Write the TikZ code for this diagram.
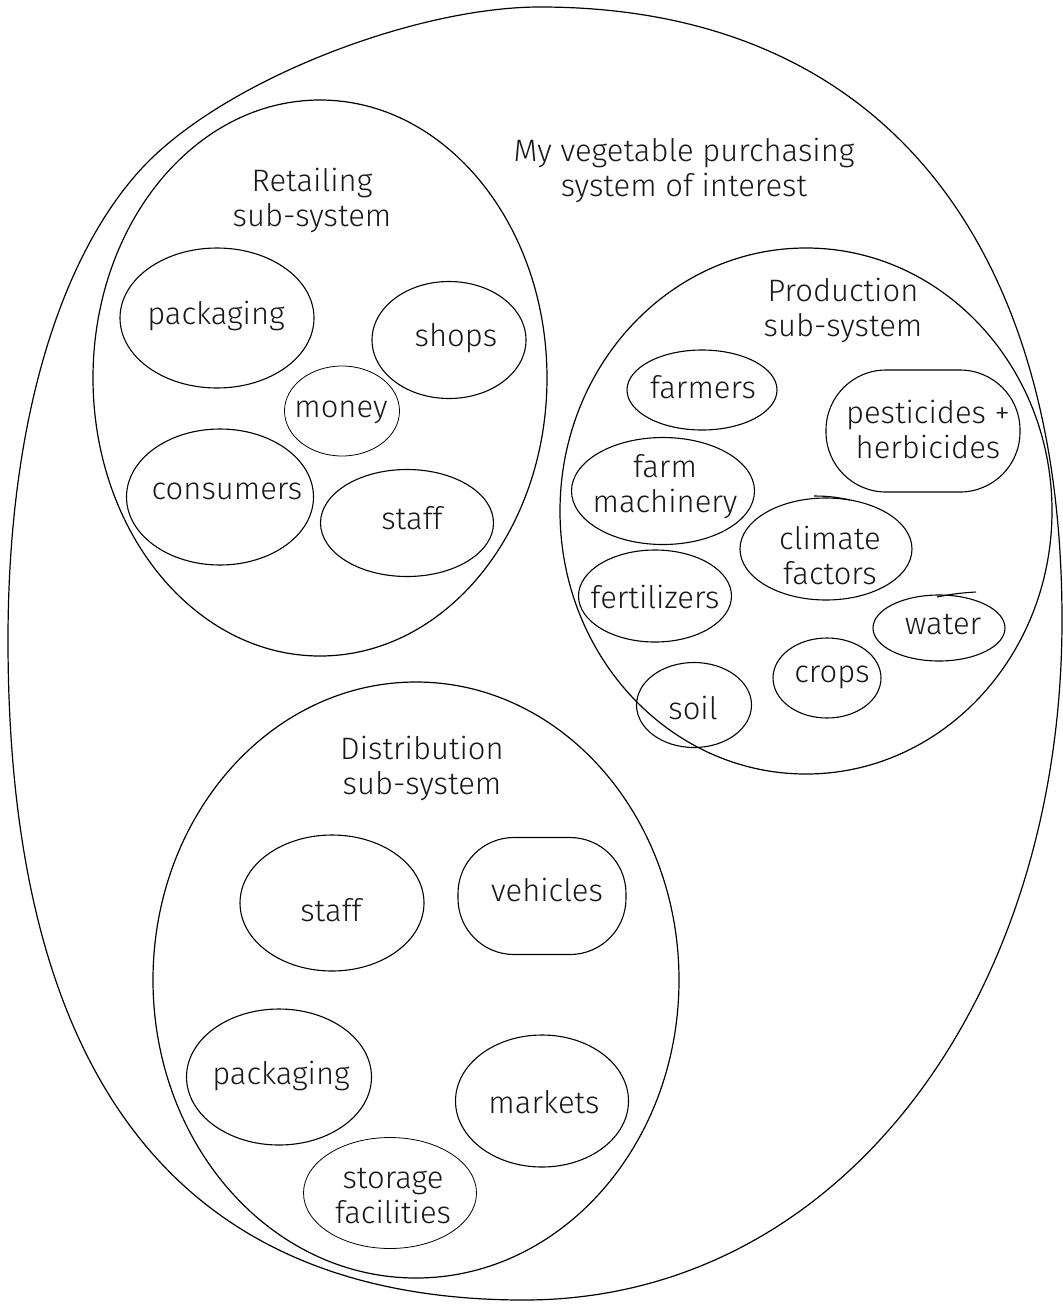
\documentclass[tikz,border=0pt]{standalone}
\usepackage{fontspec}
\setmainfont{Fira Sans Light}
\usetikzlibrary{shapes.geometric}
\begin{document}
\begin{tikzpicture}[x=1pt,y=-1pt,
  ring/.style={draw, ellipse, line width=1.2pt, inner sep=0pt},
  blob/.style={draw, ellipse, line width=1.1pt, inner sep=0pt},
  thinblob/.style={blob, line width=0.8pt},
  pill/.style={draw, rectangle, rounded corners=56pt, line width=1.1pt, inner sep=0pt},
  lbl/.style={align=center, inner sep=0pt, text=black!90,
              font=\fontsize{31}{35}\selectfont}
]
\useasboundingbox[fill=white] (0,0) rectangle (1063,1304);

% the whole system of interest: an egg-shaped outline
\draw[line width=1.2pt] (540,7)
  .. controls (880,7) and (1062,240) .. (1062,620)
  .. controls (1062,1000) and (840,1300) .. (524,1300)
  .. controls (180,1300) and (8,1080) .. (8,640)
  .. controls (8,420) and (61,255) .. (143,167)
  .. controls (225,80) and (415,7) .. cycle;
\node[lbl] (sysT) at (684,170) {My vegetable purchasing\\system of interest};

% retailing sub-system
\node[ring, minimum width=454pt, minimum height=556pt] (retail) at (320,378) {};
\node[lbl] (retailT) at (312,200) {Retailing\\sub-system};
\node[blob, minimum width=194pt, minimum height=140pt] (rpack) at (217,318) {};
\node[lbl] (rpackT) at (216,316) {packaging};
\node[blob, minimum width=154pt, minimum height=117pt] (shops) at (449,340) {};
\node[lbl] (shopsT) at (456,338) {shops};
\node[thinblob, minimum width=115pt, minimum height=90pt] (money) at (342,411) {};
\node[lbl] (moneyT) at (341,412) {money};
\node[blob, minimum width=187pt, minimum height=136pt] (cons) at (220,497) {};
\node[lbl] (consT) at (227,491) {consumers};
\node[blob, minimum width=173pt, minimum height=107pt] (rstaff) at (407,523) {};
\node[lbl] (rstaffT) at (412,518) {staff};

% production sub-system
\node[ring, minimum width=492pt, minimum height=526pt] (prod) at (806,511) {};
\node[lbl] (prodT) at (843,310) {Production\\sub-system};
\node[blob, minimum width=150pt, minimum height=80pt] (farmers) at (702,390) {};
\node[lbl] (farmersT) at (703,387) {farmers};
\node[pill, rounded corners=60pt, minimum width=194pt, minimum height=122pt] (pest) at (923,431) {};
\node[lbl] (pestT) at (928,429) {pesticides +\\herbicides};
\node[blob, minimum width=183pt, minimum height=107pt] (mach) at (663,491) {};
\node[lbl] (machT) at (665,487) {farm\\machinery};
\node[blob, minimum width=172pt, minimum height=102pt] (climate) at (826,549) {};
\node[lbl] (climateT) at (830,555) {climate\\factors};
\draw[line width=1.1pt] (814,496) to[bend left=6] (850,500);
\node[blob, minimum width=153pt, minimum height=92pt] (fert) at (655,596) {};
\node[lbl] (fertT) at (655,597) {fertilizers};
\node[blob, minimum width=132pt, minimum height=66pt] (water) at (939,628) {};
\node[lbl] (waterT) at (943,625) {water};
\draw[line width=1.1pt] (937,597) to[bend left=4] (976,592);
\node[blob, minimum width=108pt, minimum height=80pt] (crops) at (827,678) {};
\node[lbl] (cropsT) at (832,677) {crops};
\node[blob, minimum width=115pt, minimum height=85pt] (soil) at (694,705) {};
\node[lbl] (soilT) at (693,708) {soil};

% distribution sub-system
\node[ring, minimum width=526pt, minimum height=596pt] (dist) at (416,980) {};
\node[lbl] (distT) at (422,768) {Distribution\\sub-system};
\node[blob, minimum width=184pt, minimum height=136pt] (dstaff) at (332,903) {};
\node[lbl] (dstaffT) at (331,910) {staff};
\node[pill, minimum width=168pt, minimum height=117pt] (veh) at (542,896) {};
\node[lbl] (vehT) at (547,890) {vehicles};
\node[blob, minimum width=185pt, minimum height=136pt] (dpack) at (279,1077) {};
\node[lbl] (dpackT) at (281,1076) {packaging};
\node[blob, minimum width=173pt, minimum height=132pt] (markets) at (542,1101) {};
\node[lbl] (marketsT) at (544,1102) {markets};
\node[thinblob, minimum width=173pt, minimum height=111pt] (storage) at (390,1193) {};
\node[lbl] (storageT) at (393,1196) {storage\\facilities};
\end{tikzpicture}
\end{document}
